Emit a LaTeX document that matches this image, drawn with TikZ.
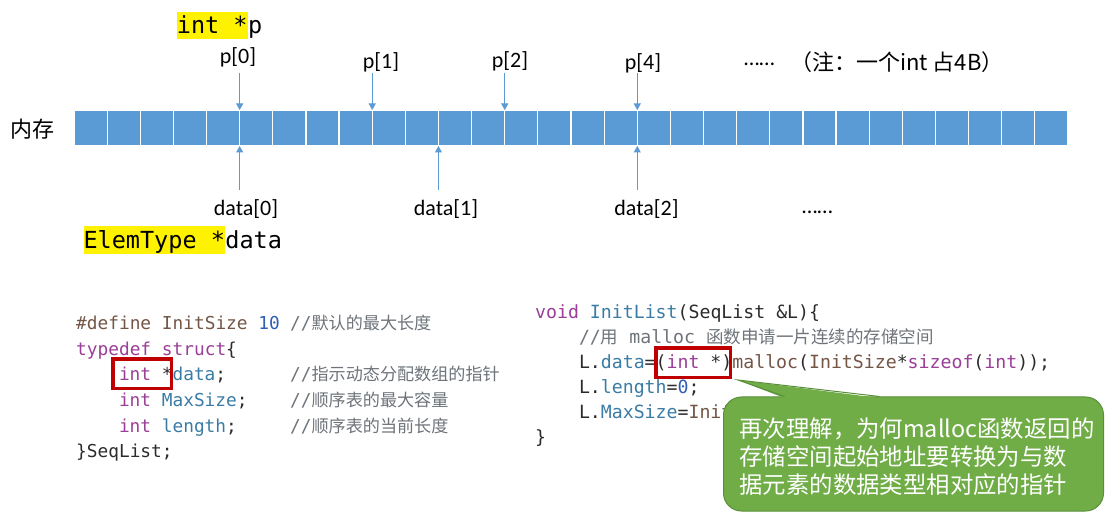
\documentclass[tikz,border=0pt]{standalone}
\usepackage{fontspec}
\usetikzlibrary{arrows.meta,calc}
\newfontfamily\cali{Carlito}
\newfontfamily\code{DejaVu Sans Mono}
\newfontfamily\cjk{Noto Sans CJK SC}
\definecolor{barblue}{HTML}{5B9BD5}
\definecolor{kwc}{HTML}{9B3E97}
\definecolor{idc}{HTML}{3A7CA5}
\definecolor{ppc}{HTML}{735646}
\definecolor{numc}{HTML}{2F5FB3}
\definecolor{cmc}{HTML}{6E747A}
\definecolor{txc}{HTML}{2B2B2B}
\definecolor{redbox}{HTML}{C00000}
\definecolor{callg}{HTML}{70AD47}
\definecolor{callb}{HTML}{5A8F3A}
\newcommand\cjkL[1]{{\cjk\fontsize{17.1}{20}\selectfont #1}}
\newcommand\cjkR[1]{{\cjk\fontsize{17.5}{20}\selectfont #1}}
\begin{document}
\begin{tikzpicture}[x=1pt,y=-1pt,
  cell/.style={rectangle, fill=barblue, draw=white, line width=1.2pt, minimum width=33.133pt, minimum height=36pt, inner sep=0pt, outer sep=0pt},
  ptr/.style={draw=barblue, line width=1pt, -{Triangle[width=7pt,length=6.5pt]}},
  lab/.style={inner sep=0pt, font=\cali\fontsize{22}{26}\selectfont},
  cjklab/.style={inner sep=0pt, font=\cjk\fontsize{22}{26}\selectfont},
  hl/.style={fill=yellow, inner sep=0pt, anchor=base west, font=\code\fontsize{23.5}{28}\selectfont},
  monolab/.style={inner sep=0pt, anchor=base west, font=\code\fontsize{23.5}{28}\selectfont},
  codeL/.style={inner sep=0pt, anchor=base west, text=txc, font=\code\fontsize{17.8}{20}\selectfont},
  codeR/.style={inner sep=0pt, anchor=base west, text=txc, font=\code\fontsize{18.2}{20}\selectfont},
  redframe/.style={rectangle, draw=redbox, line width=3.5pt, inner sep=0pt},
  callbox/.style={rectangle, fill=callg, draw=callb, line width=1pt, rounded corners=18pt, inner sep=0pt},
  calltxt/.style={text=white, inner sep=0pt, align=left, font=\cjk\fontsize{23.4}{28}\selectfont}
]
\useasboundingbox (0,0) rectangle (1120,521);
\fill[white] (0,0) rectangle (1120,521);

% memory bar
\node[cjklab] (mem) at (32.5,129) {内存};
\foreach \i in {1,...,30}
  \node[cell] (c\i) at ({74+33.133*(\i-0.5)},128) {};

% pointer p labels
\node[hl, text height=21.7pt, text depth=5.3pt] (ip) at (176.7,34) {int *};
\node[monolab] (ipp) at (ip.base east) {p};
\node[lab] (p0) at (238,57) {p[0]};
\node[lab] (p1) at (381,62) {p[1]};
\node[lab] (p2) at (510,61) {p[2]};
\node[lab] (p4) at (643,63) {p[4]};
\node[lab, anchor=base west] (dots1) at (744,66) {……};
\node[cjklab, anchor=west] (note) at (790,62) {（注：一个int 占4B）};

\path (c5.north east) ++(0,-37) coordinate (ta0);
\path (c9.north east) ++(0,-37) coordinate (ta1);
\path (c13.north east) ++(0,-37) coordinate (ta2);
\path (c17.north east) ++(0,-37) coordinate (ta4);
\draw[ptr] (ta0) -- (c5.north east);
\draw[ptr] (ta1) -- (c9.north east);
\draw[ptr] (ta2) -- (c13.north east);
\draw[ptr] (ta4) -- (c17.north east);

% data labels
\path (c5.south east) ++(0,44) coordinate (ba0);
\path (c11.south east) ++(0,44) coordinate (ba1);
\path (c17.south east) ++(0,44) coordinate (ba2);
\draw[ptr] (ba0) -- (c5.south east);
\draw[ptr] (ba1) -- (c11.south east);
\draw[ptr] (ba2) -- (c17.south east);
\node[lab, anchor=base] (d0) at (246,216) {data[0]};
\node[lab, anchor=base] (d1) at (446,216) {data[1]};
\node[lab, anchor=base] (d2) at (646.5,216) {data[2]};
\node[lab, anchor=base west] (dots2) at (802,214) {……};
\node[hl, text height=22.6pt, text depth=5.7pt] (et) at (83.3,248.3) {ElemType *};
\node[monolab] (etd) at (et.base east) {data};

% left code
\node[codeL] (l1) at (76,330) {\textcolor{ppc}{\#define InitSize} \textcolor{numc}{10}};
\node[codeL, text=cmc] (l1c) at (290,330) {//\cjkL{默认的最大长度}};
\node[codeL] (l2) at (76,355.5) {\textcolor{kwc}{typedef struct}\{};
\node[codeL] (l3) at (118.8,381) {\textcolor{kwc}{int} *\textcolor{idc}{data};};
\node[codeL, text=cmc] (l3c) at (290,381) {//\cjkL{指示动态分配数组的指针}};
\node[codeL] (l4) at (118.8,406.5) {\textcolor{kwc}{int} \textcolor{idc}{MaxSize};};
\node[codeL, text=cmc] (l4c) at (290,406.5) {//\cjkL{顺序表的最大容量}};
\node[codeL] (l5) at (118.8,432) {\textcolor{kwc}{int} \textcolor{idc}{length};};
\node[codeL, text=cmc] (l5c) at (290,432) {//\cjkL{顺序表的当前长度}};
\node[codeL] (l6) at (76,457.5) {\}SeqList;};

% right code
\node[codeR] (r1) at (535,318.5) {\textcolor{kwc}{void} \textcolor{idc}{InitList}(SeqList \&L)\{};
\node[codeR, text=cmc] (r2) at (578.8,343.5) {//\cjkR{用} malloc \cjkR{函数申请一片连续的存储空间}};
\node[codeR] (r3) at (578.8,368.5) {L.\textcolor{idc}{data}=(\textcolor{kwc}{int} *)\textcolor{ppc}{malloc}(\textcolor{ppc}{InitSize}*\textcolor{kwc}{sizeof}(\textcolor{kwc}{int}));};
\node[codeR] (r4) at (578.8,393.5) {L.\textcolor{idc}{length}=\textcolor{numc}{0};};
\node[codeR] (r5) at (578.8,418.5) {L.\textcolor{idc}{MaxSize}=\textcolor{ppc}{InitSize};};
\node[codeR] (r6) at (535,443.5) {\}};

% red frames
\node[redframe, minimum width=58.8pt, minimum height=29.2pt] (rb1) at (142.2,373.7) {};
\node[redframe, minimum width=74.5pt, minimum height=29.8pt] (rb2) at (693,362.7) {};

% callout
\node[callbox, minimum width=380pt, minimum height=114pt] (cb) at (913.5,454) {};
\coordinate (tip) at (738,380);
\coordinate (bl) at ($(cb.north west)+(61.5,0)$);
\coordinate (br) at ($(cb.north west)+(156.5,0)$);
\fill[callg] ($(bl)+(0,1.6)$) -- (tip) -- ($(br)+(0,1.6)$) -- cycle;
\draw[callb, line width=1pt] (bl) -- (tip) -- (br);
\node[calltxt, anchor=west] (ctext) at (739.3,456.7) {再次理解，为何malloc函数返回的\\存储空间起始地址要转换为与数\\据元素的数据类型相对应的指针};
\end{tikzpicture}
\end{document}
